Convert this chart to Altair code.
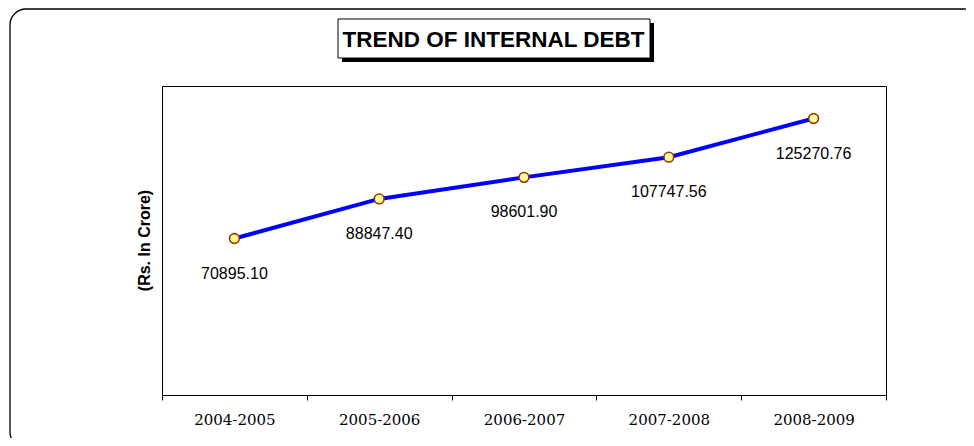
import altair as alt
import pandas as pd

years = ["2004-2005", "2005-2006", "2006-2007", "2007-2008", "2008-2009"]
debt = [70895.10, 88847.40, 98601.90, 107747.56, 125270.76]
chart_title = "TREND OF INTERNAL DEBT"
y_title = "(Rs. In Crore)"

df = pd.DataFrame({"year": years, "debt": debt})
one = pd.DataFrame({"k": [0]})

W, H = 724, 309

x_enc = alt.X("year:N", sort=years,
              scale=alt.Scale(type="band", paddingInner=0, paddingOuter=0),
              axis=alt.Axis(title=None, tickBand="extent", labelAngle=0,
                            labelFont="DejaVu Serif", labelFontSize=15,
                            labelColor="#000", labelPadding=12,
                            tickSize=5, tickColor="#000", domainColor="#000",
                            grid=False, zindex=1))
y_enc = alt.Y("debt:Q", scale=alt.Scale(domain=[0, 140000], nice=False, zero=True),
              axis=None)

# decorative frame and title box
frame = alt.Chart(one).mark_rect(fill="transparent", stroke="#000", strokeWidth=1.3,
                                 cornerRadius=16).encode(
    x=alt.value(-152), x2=alt.value(818), y=alt.value(-77), y2=alt.value(362))
shadow = alt.Chart(one).mark_rect(fill="#000").encode(
    x=alt.value(180), x2=alt.value(492), y=alt.value(-63), y2=alt.value(-24))
box = alt.Chart(one).mark_rect(fill="white", stroke="#000", strokeWidth=1).encode(
    x=alt.value(176), x2=alt.value(488), y=alt.value(-67), y2=alt.value(-28))
title_txt = alt.Chart(one).mark_text(font="Liberation Sans", fontWeight="bold",
                                     fontSize=22.5, align="center",
                                     baseline="alphabetic", color="#000").encode(
    x=alt.value(331.5), y=alt.value(-39), text=alt.value(chart_title))
ytitle_txt = alt.Chart(one).mark_text(font="Liberation Sans", fontWeight="bold",
                                      fontSize=16, align="center", baseline="middle",
                                      angle=270, color="#000").encode(
    x=alt.value(-17.5), y=alt.value(154.5), text=alt.value(y_title))

base = alt.Chart(df)
line = base.mark_line(color="#0000FF", strokeWidth=4).encode(x=x_enc, y=y_enc)
pts = base.mark_point(filled=True, fill="#FFFF99", stroke="#993300", strokeWidth=1.6,
                      size=95, opacity=1, shape="circle").encode(x=x_enc, y=y_enc)
labels = base.mark_text(font="Liberation Sans", fontSize=16, dy=35, align="center",
                        baseline="middle", color="#000").encode(
    x=x_enc, y=y_enc, text=alt.Text("debt:Q", format=".2f"))

chart = alt.layer(frame, shadow, box, title_txt, ytitle_txt, line, pts, labels).properties(
    width=W, height=H,
    autosize=alt.AutoSizeParams(type="none"),
    padding={"left": 154, "top": 78, "right": 80, "bottom": 43},
    background="white",
).configure_view(stroke="#000", strokeWidth=1)

chart.save("out.html", embed_options={"renderer": "svg", "actions": False})
